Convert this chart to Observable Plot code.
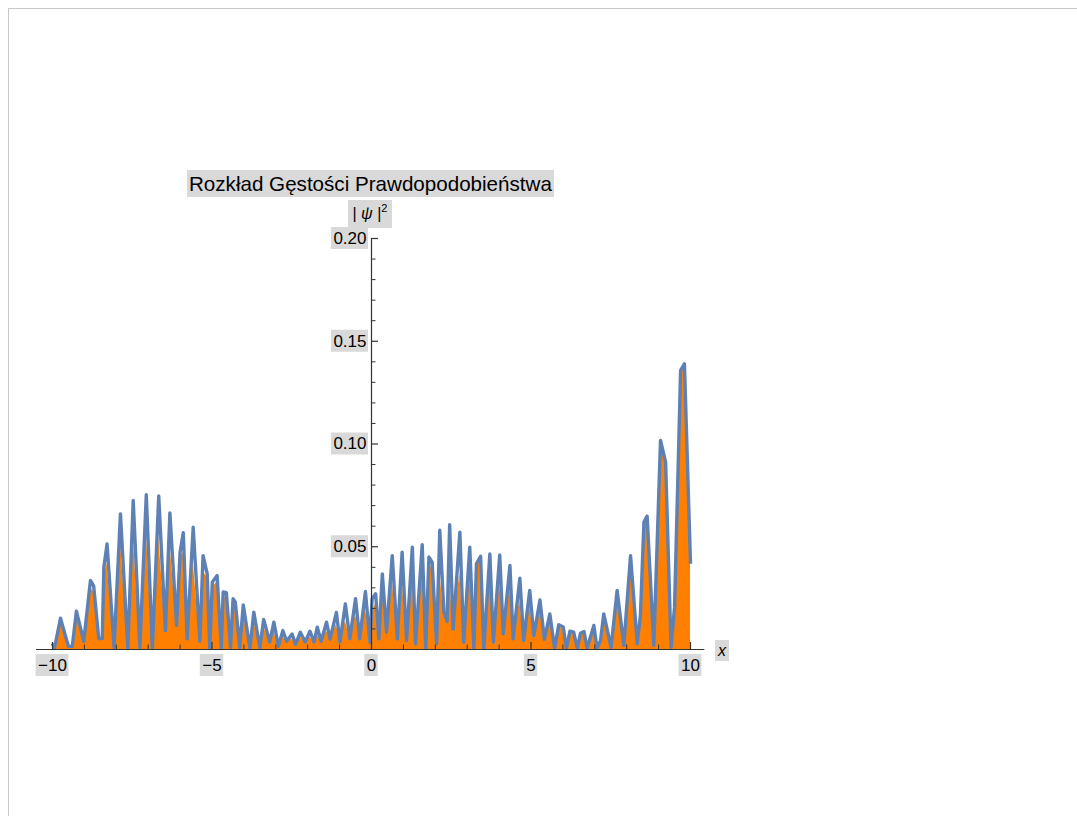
<!DOCTYPE html>
<html><head><meta charset="utf-8">
<script src="https://cdn.jsdelivr.net/npm/d3@7"></script>
<script src="https://cdn.jsdelivr.net/npm/@observablehq/plot@0.6"></script>
<style>
body{margin:0;background:#fff;font-family:"Liberation Sans",Arial,sans-serif;overflow:hidden;}
#frame{position:absolute;left:8px;top:8px;width:1100px;height:900px;border:1px solid #c8c8c8;}
#chart{position:absolute;left:0;top:0;}
.lab{position:absolute;background:#d9d9d9;color:#000;white-space:nowrap;}
#title{left:187px;top:170px;font-size:20.6px;line-height:27px;padding:0 2px;}
#ylab{left:348px;top:200px;width:44px;height:28px;font-size:16px;line-height:28px;text-align:center;}
#ylab sup{font-size:11px;vertical-align:7px;line-height:0;}
#xlab{left:715px;top:640px;width:14px;height:21px;font-size:16px;line-height:21px;text-align:center;font-style:italic;}
</style></head><body>
<div id="frame"></div>
<div id="chart"></div>
<div class="lab" id="title">Rozkład Gęstości Prawdopodobieństwa</div>
<div class="lab" id="ylab">| <i>ψ</i> |<sup>2</sup></div>
<div class="lab" id="xlab">x</div>
<script>
const xs = [-10.0,-9.94,-9.75,-9.5,-9.38,-9.25,-9.02,-8.81,-8.71,-8.55,-8.44,-8.39,-8.29,-8.07,-7.87,-7.64,-7.47,-7.26,-7.06,-6.87,-6.67,-6.46,-6.32,-6.11,-6.0,-5.9,-5.78,-5.59,-5.38,-5.28,-5.15,-5.07,-4.99,-4.84,-4.71,-4.65,-4.55,-4.42,-4.34,-4.27,-4.13,-4.02,-3.81,-3.69,-3.5,-3.38,-3.19,-3.06,-2.92,-2.78,-2.66,-2.49,-2.38,-2.23,-2.08,-1.93,-1.8,-1.7,-1.58,-1.41,-1.3,-1.1,-0.99,-0.82,-0.68,-0.5,-0.37,-0.19,-0.05,0.02,0.13,0.23,0.34,0.47,0.65,0.81,0.96,1.1,1.28,1.38,1.59,1.7,1.8,1.9,2.04,2.14,2.27,2.37,2.45,2.56,2.77,2.89,3.08,3.21,3.29,3.42,3.52,3.71,3.82,4.02,4.13,4.34,4.44,4.65,4.77,4.96,5.09,5.28,5.42,5.59,5.74,5.87,6.01,6.11,6.22,6.34,6.45,6.55,6.66,6.76,6.97,7.07,7.18,7.28,7.51,7.7,7.91,8.12,8.33,8.43,8.54,8.64,8.85,9.06,9.22,9.39,9.5,9.69,9.81,10.0];
const lineY = [0.003,0.0005,0.0152,0.0015,0.0015,0.0187,0.004,0.0336,0.031,0.0053,0.0053,0.04,0.0514,0.001,0.066,0.0005,0.0725,0.001,0.0753,0.0005,0.0747,0.0092,0.0665,0.0117,0.0474,0.0568,0.0052,0.0595,0.004,0.0457,0.0368,0.0005,0.0327,0.036,0.0005,0.028,0.0277,0.001,0.0247,0.023,0.001,0.0217,0.0005,0.0182,0.001,0.0146,0.0036,0.0133,0.0015,0.0092,0.004,0.0075,0.0025,0.0084,0.0036,0.0089,0.0036,0.0109,0.004,0.0133,0.005,0.018,0.0036,0.0222,0.0052,0.0247,0.0052,0.0282,0.0036,0.0247,0.0271,0.0052,0.0368,0.0084,0.0457,0.0052,0.0474,0.0044,0.0498,0.0028,0.051,0.0005,0.045,0.0425,0.0028,0.058,0.0182,0.0136,0.0607,0.0099,0.0571,0.0036,0.0498,0.0005,0.0417,0.0454,0.0005,0.0465,0.0036,0.046,0.0076,0.0409,0.0052,0.0347,0.0044,0.0287,0.0068,0.0241,0.0049,0.0173,0.0005,0.012,0.0109,0.0005,0.0089,0.0084,0.0005,0.0079,0.0088,0.0006,0.0117,0.0006,0.0044,0.0173,0.001,0.0287,0.002,0.0457,0.0028,0.0165,0.062,0.0649,0.002,0.1017,0.0912,0.001,0.0206,0.1358,0.139,0.0417];
const fillY = [0.003,0.0005,0.014,0.0015,0.0015,0.017,0.004,0.03,0.028,0.0053,0.0053,0.035,0.042,0.001,0.053,0.0005,0.056,0.001,0.058,0.0005,0.055,0.0092,0.052,0.0117,0.045,0.047,0.0052,0.043,0.004,0.038,0.035,0.0005,0.03,0.033,0.0005,0.026,0.025,0.001,0.022,0.02,0.001,0.018,0.0005,0.014,0.001,0.011,0.0036,0.009,0.0015,0.006,0.004,0.005,0.0025,0.006,0.0036,0.006,0.0036,0.007,0.004,0.009,0.005,0.012,0.0036,0.014,0.0052,0.017,0.0052,0.02,0.0036,0.018,0.022,0.0052,0.027,0.009,0.034,0.006,0.034,0.005,0.035,0.0028,0.036,0.0005,0.04,0.04,0.0028,0.038,0.016,0.016,0.034,0.011,0.037,0.0036,0.036,0.0005,0.042,0.043,0.0005,0.04,0.0036,0.033,0.0076,0.03,0.0052,0.024,0.0044,0.021,0.0068,0.02,0.0049,0.015,0.0005,0.011,0.01,0.0005,0.008,0.0075,0.0005,0.007,0.008,0.0006,0.011,0.0006,0.0044,0.016,0.001,0.027,0.002,0.043,0.0028,0.0165,0.06,0.063,0.002,0.1,0.09,0.001,0.0206,0.134,0.137,0.0417];
const xTickValues = [-10, -5, 0, 5, 10];
const xTickLabels = ["−10", "−5", "0", "5", "10"];
const xMinorTicks = [-9,-8,-7,-6,-4,-3,-2,-1,1,2,3,4,6,7,8,9];
const yTickValues = [0.05, 0.10, 0.15, 0.20];
const yTickLabels = ["0.05", "0.10", "0.15", "0.20"];
const yMinorTicks = [0.01,0.02,0.03,0.04,0.06,0.07,0.08,0.09,0.11,0.12,0.13,0.14,0.16,0.17,0.18,0.19];

const data = xs.map((x, i) => ({x, line: lineY[i], fill: fillY[i]}));
const FONT = '"Liberation Sans", Arial, sans-serif';
const ctx = document.createElement("canvas").getContext("2d");
ctx.font = "17px " + FONT;
const tw = s => ctx.measureText(s).width;
const BG = "#d9d9d9";
const AX = "#333333";

const marks = [];
xTickValues.forEach((v, i) => {
  const h = tw(xTickLabels[i]) / 2 + 2;
  marks.push(Plot.rect([v], {x1: d => d, x2: d => d, y1: 0, y2: 0, insetLeft: -h, insetRight: -h, insetTop: 5, insetBottom: -27, fill: BG}));
});
yTickValues.forEach((v, i) => {
  const w = tw(yTickLabels[i]);
  marks.push(Plot.rect([v], {x1: 0, x2: 0, y1: d => d, y2: d => d, insetLeft: -(w + 7), insetRight: 3, insetTop: -11, insetBottom: -11, fill: BG}));
});
marks.push(
  Plot.areaY(data, {x: "x", y: "fill", fill: "#ff8000"}),
  Plot.line(data, {x: "x", y: "line", stroke: "#5e81b5", strokeWidth: 3.4, strokeLinejoin: "round", strokeLinecap: "butt"}),
  Plot.ruleY([0], {x1: -10.5, x2: 10.45, stroke: AX, strokeWidth: 1.2}),
  Plot.ruleX([0], {y1: 0, y2: 0.2, stroke: AX, strokeWidth: 1.2}),
  Plot.ruleX(xTickValues, {x: d => d, y1: 0, y2: 0, insetBottom: 7, stroke: AX, strokeWidth: 1.2}),
  Plot.ruleX(xMinorTicks, {x: d => d, y1: 0, y2: 0, insetBottom: 4.5, stroke: AX, strokeWidth: 1}),
  Plot.ruleY(yTickValues, {y: d => d, x1: 0, x2: 0, insetRight: -7, stroke: AX, strokeWidth: 1.2}),
  Plot.ruleY(yMinorTicks, {y: d => d, x1: 0, x2: 0, insetRight: -4.5, stroke: AX, strokeWidth: 1}),
  Plot.text(xTickValues, {x: d => d, y: 0, text: (d, i) => xTickLabels[i], dy: 16, fontSize: 17, fill: "#000"}),
  Plot.text(yTickValues, {x: 0, y: d => d, text: (d, i) => yTickLabels[i], dx: -5, textAnchor: "end", fontSize: 17, fill: "#000"})
);

const chart = Plot.plot({
  width: 1077, height: 816,
  marginLeft: 52, marginRight: 387, marginTop: 238, marginBottom: 167,
  x: {domain: [-10, 10], axis: null},
  y: {domain: [0, 0.2], axis: null},
  style: {fontFamily: FONT, background: "transparent", overflow: "visible"},
  marks
});
document.getElementById("chart").appendChild(chart);
</script>
</body></html>
